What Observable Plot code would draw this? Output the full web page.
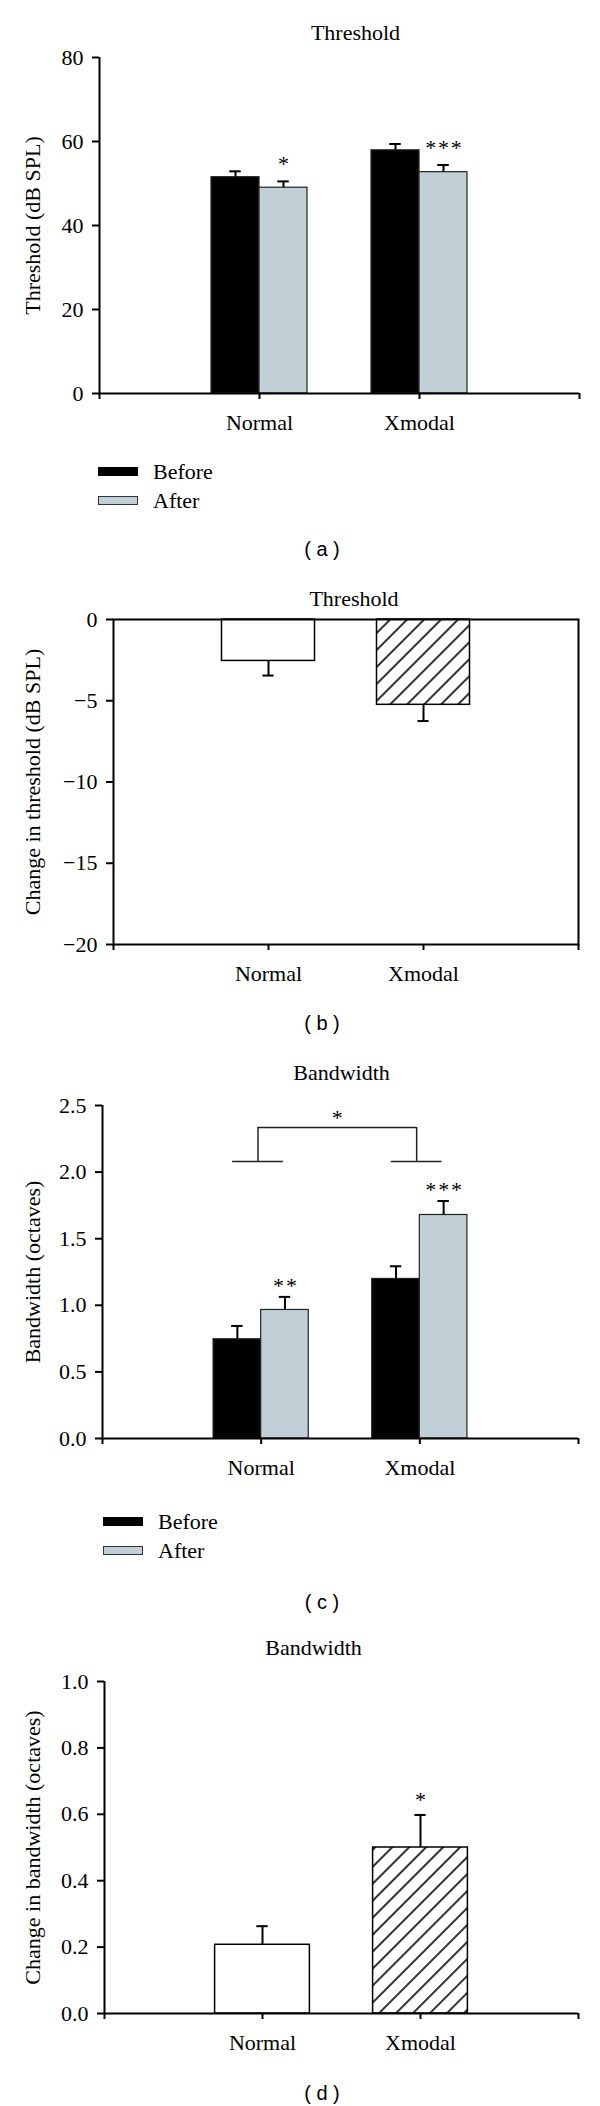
<!DOCTYPE html>
<html><head><meta charset="utf-8">
<script src="https://cdn.jsdelivr.net/npm/d3@7"></script>
<script src="https://cdn.jsdelivr.net/npm/@observablehq/plot@0.6"></script>
<style>
body{margin:0;background:#fff;}
#root{position:relative;width:600px;height:2106px;background:#fff;font-family:'Liberation Serif','Times New Roman',serif;color:#000;overflow:hidden;}
.panel{position:absolute;left:0;}
.cap{position:absolute;font-family:'Liberation Sans',Arial,sans-serif;font-size:20px;line-height:20px;transform:translate(-50%,-50%);white-space:pre;}
.leg-text{position:absolute;font-size:22px;line-height:22px;transform:translateY(-50%);}
.sw{position:absolute;width:40px;height:9px;box-sizing:border-box;}
</style></head><body><div id="root"></div>
<script>
// ---- data ----
const categories = ["Normal", "Xmodal"];
const series = ["Before", "After"];
const seriesColors = ["#000000", "#c1d0d7"];
// (a) threshold before / after
const thresholdBefore = [51.5, 57.9];
const thresholdBeforeErr = [1.4, 1.5];
const thresholdAfter = [49.0, 52.7];
const thresholdAfterErr = [1.5, 1.7];
const thresholdSig = ["*", "***"];
const thresholdTicks = [0, 20, 40, 60, 80];
// (b) change in threshold
const thresholdChange = [-2.55, -5.25];
const thresholdChangeErr = [0.9, 1.0];
const thresholdChangeTicks = [-20, -15, -10, -5, 0];
// (c) bandwidth before / after
const bandwidthBefore = [0.745, 1.198];
const bandwidthBeforeErr = [0.10, 0.095];
const bandwidthAfter = [0.965, 1.678];
const bandwidthAfterErr = [0.098, 0.105];
const bandwidthSig = ["**", "***"];
const bandwidthTicks = [0, 0.5, 1.0, 1.5, 2.0, 2.5];
const groupBracket = [2.08, 2.335];
const groupSig = ["*"];
// (d) change in bandwidth
const bandwidthChange = [0.207, 0.50];
const bandwidthChangeErr = [0.056, 0.098];
const bandwidthChangeSig = ["", "*"];
const bandwidthChangeTicks = [0, 0.2, 0.4, 0.6, 0.8, 1.0];
// texts
const panelTitles = ["Threshold", "Threshold", "Bandwidth", "Bandwidth"];
const yLabels = ["Threshold (dB SPL)", "Change in threshold (dB SPL)", "Bandwidth (octaves)", "Change in bandwidth (octaves)"];
const captions = ["( a )", "( b )", "( c )", "( d )"];

// ---- helpers ----
const root = document.getElementById("root");
const FONT = "'Liberation Serif','Times New Roman',serif";
const GW = 0.3;   // grouped bar width (x units)
const SW = 0.3;   // half width of single bar
const CAP = 0.036;
const spaced = s => s.split("").join("\u200A");

function grouped(b, be, a, ae, sig) {
  return categories.flatMap((c, i) => [
    {cat: c, pos: i + 1, series: "Before", v: b[i], e: be[i], sig: ""},
    {cat: c, pos: i + 1, series: "After", v: a[i], e: ae[i], sig: sig[i]}
  ]);
}
function single(v, e, sig) {
  return categories.map((c, i) => ({cat: c, pos: i + 1, v: v[i], e: e[i], sig: sig ? sig[i] : ""}));
}
const gx = d => d.series === "Before" ? d.pos - GW / 2 : d.pos + GW / 2;
const errEnd = d => d.v + Math.sign(d.v) * d.e;

function axes(ticks, fmt) {
  return [
    Plot.axisY({ticks, tickFormat: fmt, tickSize: 7, tickPadding: 9, strokeWidth: 2, fontSize: 22, label: null}),
    Plot.axisX({ticks: [0, 1, 2, 3], tickFormat: t => categories[t - 1] ?? "", tickSize: 6, tickPadding: 15, strokeWidth: 2, fontSize: 22, label: null})
  ];
}
function titleMarks(k, ml, dx, dy) {
  return [
    Plot.text([panelTitles[k]], {text: d => d, frameAnchor: "top", lineAnchor: "middle", dx, dy, fontSize: 22}),
    Plot.text([yLabels[k]], {text: d => d, frameAnchor: "left", textAnchor: "middle", lineAnchor: "middle", rotate: -90, dx: 32 - ml, fontSize: 22})
  ];
}
function errorMarks(rows, xf) {
  return [
    Plot.ruleX(rows, {x: xf, y1: "v", y2: errEnd, stroke: "#000", strokeWidth: 2}),
    Plot.ruleY(rows, {y: errEnd, x1: d => xf(d) - CAP, x2: d => xf(d) + CAP, stroke: "#000", strokeWidth: 2})
  ];
}
function addHatch(svg, id) {
  const ns = "http://www.w3.org/2000/svg";
  const defs = document.createElementNS(ns, "defs");
  const p = document.createElementNS(ns, "pattern");
  p.setAttribute("id", id);
  p.setAttribute("patternUnits", "userSpaceOnUse");
  p.setAttribute("width", "12");
  p.setAttribute("height", "12");
  p.setAttribute("patternTransform", "rotate(45)");
  const r = document.createElementNS(ns, "rect");
  r.setAttribute("width", "12"); r.setAttribute("height", "12"); r.setAttribute("fill", "#fff");
  const l = document.createElementNS(ns, "line");
  l.setAttribute("x1", "6"); l.setAttribute("x2", "6"); l.setAttribute("y1", "-1"); l.setAttribute("y2", "13");
  l.setAttribute("stroke", "#000"); l.setAttribute("stroke-width", "1.6");
  p.appendChild(r); p.appendChild(l); defs.appendChild(p);
  svg.insertBefore(defs, svg.firstChild);
}
function place(svg, top) {
  const d = document.createElement("div");
  d.className = "panel";
  d.style.top = top + "px";
  d.appendChild(svg);
  root.appendChild(d);
}
const style = {fontFamily: FONT, fontSize: "22px", color: "#000", background: "transparent", overflow: "visible"};

// ---- (a) ----
{
  const rows = grouped(thresholdBefore, thresholdBeforeErr, thresholdAfter, thresholdAfterErr, thresholdSig);
  const ml = 99;
  const svg = Plot.plot({
    width: 600, height: 438, marginLeft: ml, marginRight: 21, marginTop: 57, marginBottom: 45,
    style,
    x: {domain: [0, 3]},
    y: {domain: [0, 80]},
    color: {domain: series, range: seriesColors},
    marks: [
      Plot.rectY(rows, {x1: d => d.series === "Before" ? d.pos - GW : d.pos, x2: d => d.series === "Before" ? d.pos : d.pos + GW, y1: 0, y2: "v", fill: "series", stroke: "#222", strokeWidth: 1.2}),
      ...errorMarks(rows, gx),
      Plot.text(rows.filter(d => d.sig), {x: gx, y: errEnd, text: d => spaced(d.sig), dy: -17, fontSize: 22}),
      Plot.ruleX([0], {stroke: "#000", strokeWidth: 2}),
      Plot.ruleY([0], {stroke: "#000", strokeWidth: 2}),
      ...axes(thresholdTicks, d3.format("d")),
      ...titleMarks(0, ml, 16, -25)
    ]
  });
  place(svg, 0);
}

// ---- (b) ----
{
  const rows = single(thresholdChange, thresholdChangeErr);
  const ml = 113;
  const svg = Plot.plot({
    width: 600, height: 429, marginLeft: ml, marginRight: 22, marginTop: 59, marginBottom: 45,
    style,
    x: {domain: [0, 3]},
    y: {domain: [-20, 0]},
    marks: [
      Plot.rectY(rows.filter((d, i) => i === 0), {x1: d => d.pos - SW, x2: d => d.pos + SW, y1: 0, y2: "v", fill: "#fff", stroke: "#000", strokeWidth: 1.5}),
      Plot.rectY(rows.filter((d, i) => i === 1), {x1: d => d.pos - SW, x2: d => d.pos + SW, y1: 0, y2: "v", fill: "url(#hatchB)", stroke: "#000", strokeWidth: 1.5}),
      ...errorMarks(rows, d => d.pos),
      Plot.frame({stroke: "#000", strokeWidth: 2}),
      ...axes(thresholdChangeTicks, d3.format("d")),
      ...titleMarks(1, ml, 8, -21)
    ]
  });
  addHatch(svg, "hatchB");
  place(svg, 560);
}

// ---- (c) ----
{
  const rows = grouped(bandwidthBefore, bandwidthBeforeErr, bandwidthAfter, bandwidthAfterErr, bandwidthSig);
  const ml = 102;
  const legX = categories.map((c, i) => i + 1 - 0.02);
  const svg = Plot.plot({
    width: 600, height: 443, marginLeft: ml, marginRight: 22, marginTop: 65, marginBottom: 45,
    style,
    x: {domain: [0, 3]},
    y: {domain: [0, 2.5]},
    color: {domain: series, range: seriesColors},
    marks: [
      Plot.rectY(rows, {x1: d => d.series === "Before" ? d.pos - GW : d.pos, x2: d => d.series === "Before" ? d.pos : d.pos + GW, y1: 0, y2: "v", fill: "series", stroke: "#222", strokeWidth: 1.2}),
      ...errorMarks(rows, gx),
      Plot.text(rows.filter(d => d.sig), {x: gx, y: errEnd, text: d => spaced(d.sig), dy: -11, fontSize: 22}),
      // group comparison bracket
      Plot.ruleY(legX, {y: groupBracket[0], x1: d => d - 0.16, x2: d => d + 0.16, stroke: "#222", strokeWidth: 1.5}),
      Plot.ruleX(legX, {x: d => d, y1: groupBracket[0], y2: groupBracket[1], stroke: "#222", strokeWidth: 1.5}),
      Plot.ruleY([groupBracket[1]], {y: d => d, x1: legX[0], x2: legX[1], stroke: "#222", strokeWidth: 1.5}),
      Plot.text(groupSig, {text: d => d, x: (legX[0] + legX[1]) / 2, y: groupBracket[1], dy: -10, fontSize: 22}),
      Plot.ruleX([0], {stroke: "#000", strokeWidth: 2}),
      Plot.ruleY([0], {stroke: "#000", strokeWidth: 2}),
      ...axes(bandwidthTicks, d3.format(".1f")),
      ...titleMarks(2, ml, 1, -33)
    ]
  });
  place(svg, 1040);
}

// ---- (d) ----
{
  const rows = single(bandwidthChange, bandwidthChangeErr, bandwidthChangeSig);
  const ml = 104;
  const svg = Plot.plot({
    width: 600, height: 438, marginLeft: ml, marginRight: 22, marginTop: 61, marginBottom: 45,
    style,
    x: {domain: [0, 3]},
    y: {domain: [0, 1]},
    marks: [
      Plot.rectY(rows.filter((d, i) => i === 0), {x1: d => d.pos - SW, x2: d => d.pos + SW, y1: 0, y2: "v", fill: "#fff", stroke: "#000", strokeWidth: 1.5}),
      Plot.rectY(rows.filter((d, i) => i === 1), {x1: d => d.pos - SW, x2: d => d.pos + SW, y1: 0, y2: "v", fill: "url(#hatchD)", stroke: "#000", strokeWidth: 1.5}),
      ...errorMarks(rows, d => d.pos),
      Plot.text(rows.filter(d => d.sig), {x: "pos", y: errEnd, text: d => spaced(d.sig), dy: -15, fontSize: 22}),
      Plot.ruleX([0], {stroke: "#000", strokeWidth: 2}),
      Plot.ruleY([0], {stroke: "#000", strokeWidth: 2}),
      ...axes(bandwidthChangeTicks, d3.format(".1f")),
      ...titleMarks(3, ml, -28, -34)
    ]
  });
  addHatch(svg, "hatchD");
  place(svg, 1620);
}

// ---- legends ----
function legend(left, tops, textCenters) {
  series.forEach((s, i) => {
    const sw = document.createElement("div");
    sw.className = "sw";
    sw.style.left = left + "px";
    sw.style.top = tops[i] + "px";
    sw.style.background = seriesColors[i];
    sw.style.border = i === 0 ? "1px solid #000" : "1.5px solid #333";
    root.appendChild(sw);
    const t = document.createElement("div");
    t.className = "leg-text";
    t.style.left = (left + 55) + "px";
    t.style.top = textCenters[i] + "px";
    t.textContent = s;
    root.appendChild(t);
  });
}
legend(98, [467, 496], [472, 501]);
legend(103, [1517, 1546], [1522, 1551]);

// ---- captions ----
const capY = [549, 1023, 1602, 2093];
captions.forEach((c, i) => {
  const d = document.createElement("div");
  d.className = "cap";
  d.style.left = "322px";
  d.style.top = capY[i] + "px";
  d.textContent = c;
  root.appendChild(d);
});
</script></body></html>
